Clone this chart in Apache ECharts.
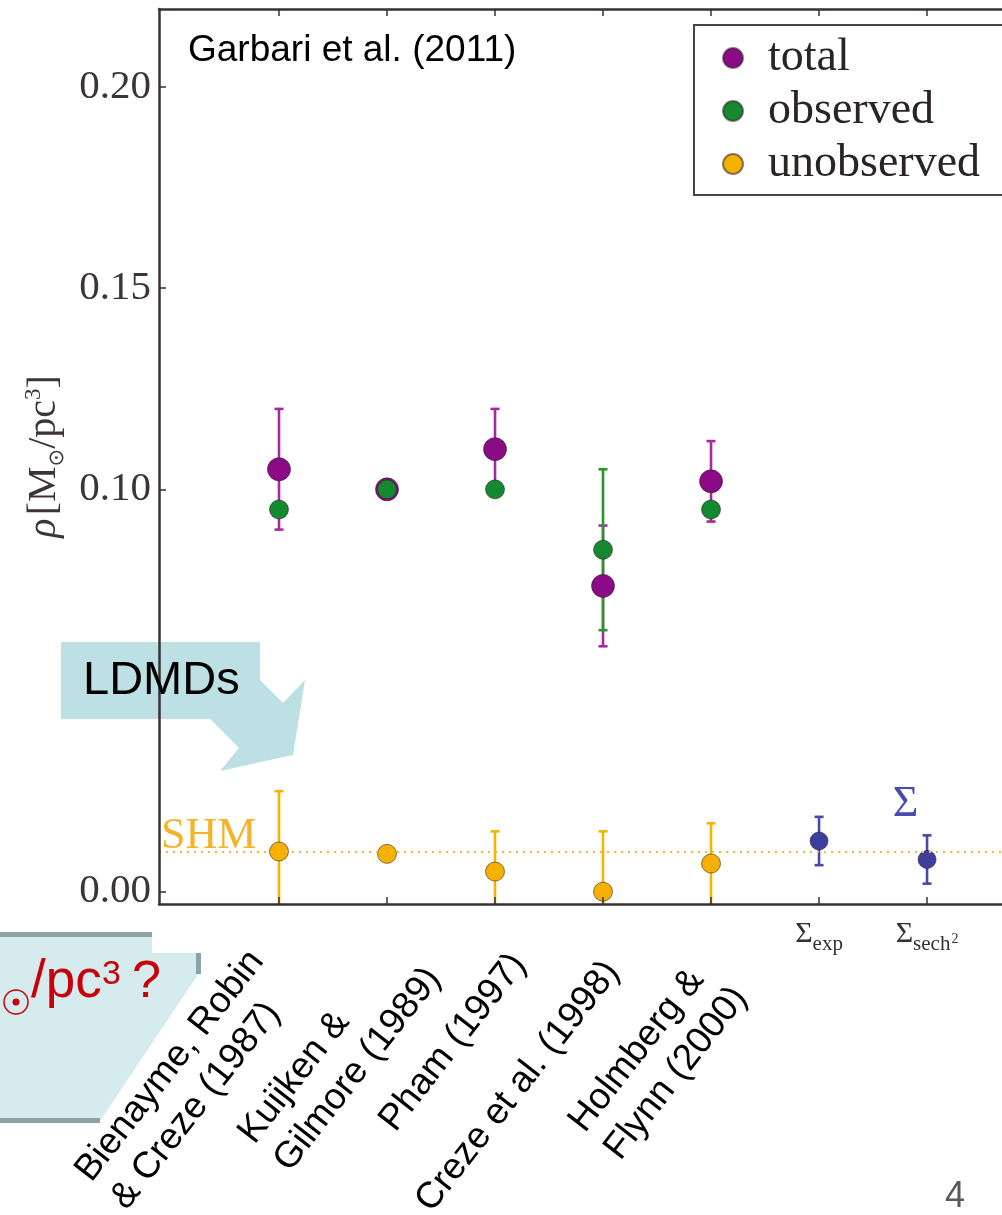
<!DOCTYPE html>
<html>
<head>
<meta charset="utf-8">
<script src="https://cdn.jsdelivr.net/npm/echarts@6/dist/echarts.min.js"></script>
<style>
  html, body { margin: 0; padding: 0; background: #ffffff; }
  #chart { width: 1002px; height: 1215px; }
</style>
</head>
<body>
<div id="chart"></div>
<script>
// Local dark matter density estimates, rho in M_sun / pc^3
const studies = ['Bienayme, Robin\n& Creze (1987)', 'Kuijken &\nGilmore (1989)', 'Pham (1997)', 'Creze et al. (1998)', 'Holmberg &\nFlynn (2000)'];
const studyPos = [1, 2, 3, 4, 5];

const totalRho  = [0.105, 0.100, 0.110, 0.076, 0.102];
const totalLow  = [0.090, null, 0.100, 0.061, 0.092];
const totalHigh = [0.120, null, 0.120, 0.091, 0.112];

const observedRho  = [0.095, 0.100, 0.100, 0.085, 0.095];
const observedLow  = [null, null, null, 0.065, null];
const observedHigh = [null, null, null, 0.105, null];

const unobservedRho  = [0.010, 0.0094, 0.005, 0.000, 0.007];
const unobservedLow  = [-0.005, null, -0.005, -0.015, -0.004];
const unobservedHigh = [0.025, null, 0.015, 0.015, 0.017];

// surface-density based fits
const sigmaPos  = [6, 7];
const sigmaSub  = ['exp', 'sech'];
const sigmaSup  = ['', '2'];
const sigmaRho  = [0.0126, 0.008];
const sigmaLow  = [0.0066, 0.002];
const sigmaHigh = [0.0186, 0.014];

const shmRho = 0.008;               // standard halo model
const yTicks = [0, 0.05, 0.10, 0.15, 0.20];
const yTickLabels = [0, 0.10, 0.15, 0.20];
const allTicks = [1, 2, 3, 4, 5, 6, 7];

const X_MIN = -0.111, X_MAX = 7.694;
const Y_MIN = -0.00306, Y_MAX = 0.2194;

const C = {
  axis: '#3a3131',
  total: '#8b0a85', totalBar: '#a52a9d',
  observed: '#14892f', observedBar: '#27972c',
  unobserved: '#f4b100', unobservedBar: '#f5b400',
  sigma: '#3d3f9e', sigmaBar: '#4848aa',
  edge: 'rgba(45,25,30,0.55)'
};

function points(xs, ys) { return xs.map((x, i) => [x, ys[i]]); }
function bars(xs, lo, hi) {
  return xs.map((x, i) => (lo[i] == null ? null : [x, lo[i], hi[i]])).filter(Boolean);
}

function errorBar(color, width, cap) {
  return function (params, api) {
    const x = api.value(0);
    const a = api.coord([x, api.value(1)]);
    const b = api.coord([x, api.value(2)]);
    const st = { stroke: color, lineWidth: width };
    return {
      type: 'group',
      children: [
        { type: 'line', shape: { x1: a[0], y1: a[1], x2: b[0], y2: b[1] }, style: st },
        { type: 'line', shape: { x1: a[0] - cap, y1: a[1], x2: a[0] + cap, y2: a[1] }, style: st },
        { type: 'line', shape: { x1: b[0] - cap, y1: b[1], x2: b[0] + cap, y2: b[1] }, style: st }
      ]
    };
  };
}

function barSeries(name, data, color) {
  return {
    name: name, type: 'custom', clip: true, silent: true,
    renderItem: errorBar(color, 2.6, 4.5),
    encode: { x: 0, y: [1, 2] },
    data: data, z: 2
  };
}

function dotSeries(name, data, color, size, extra) {
  return Object.assign({
    name: name, type: 'scatter', symbol: 'circle', symbolSize: size,
    itemStyle: { color: color, borderColor: C.edge, borderWidth: 1, opacity: 1 },
    data: data, z: 3, silent: true
  }, extra || {});
}

// per-label nudges of the slanted study names: along the baseline / across it
const labelAlong = [9, 38, 35, 20, 12];
const labelAcross = [-13, 7, 3, -4, 5];
const slantRich = {};
labelAlong.forEach((s, i) => {
  const d = labelAcross[i];
  slantRich['s' + i] = {
    fontFamily: '"Liberation Sans", Arial, sans-serif', fontSize: 37, lineHeight: 45,
    color: '#000000', align: 'left',
    padding: [d > 0 ? 2 * d : 0, -s, d < 0 ? -2 * d : 0, 0]
  };
});
// empty end stops keep every study name clear of the min/max label check
const slantLabelValues = [0].concat(studyPos, [7.4]);

const serif = '"Liberation Serif", "DejaVu Serif", serif';

const option = {
  animation: false,
  backgroundColor: '#ffffff',
  grid: { left: 159, right: 0, top: 9, bottom: 311, containLabel: false, outerBoundsMode: 'none' },
  legend: {
    data: ['total', 'observed', 'unobserved'],
    orient: 'vertical', left: 694, top: 25,
    padding: [10, 70, 8, 28], itemGap: 7, itemWidth: 60, itemHeight: 20,
    icon: 'circle', selectedMode: false,
    borderColor: '#4a4444', borderWidth: 2, backgroundColor: '#ffffff',
    textStyle: { fontFamily: serif, fontSize: 46, lineHeight: 44, color: '#2b2424' }
  },
  xAxis: [
    {
      type: 'value', min: X_MIN, max: X_MAX, position: 'bottom', z: 5,
      axisLine: { show: true, onZero: false, lineStyle: { color: C.axis, width: 2.5 } },
      axisTick: { show: true, inside: true, length: 7, customValues: allTicks, lineStyle: { color: C.axis, width: 1.5 } },
      splitLine: { show: false },
      axisLabel: {
        show: true, customValues: slantLabelValues, rotate: 52, margin: 80,
        hideOverlap: false, showMinLabel: false, showMaxLabel: false,
        formatter: function (v) {
          const i = studyPos.indexOf(v);
          if (i < 0) return '';
          return studies[i].split('\n').map(l => '{s' + i + '|' + l + '}').join('\n');
        },
        rich: slantRich
      }
    },
    {
      type: 'value', min: X_MIN, max: X_MAX, position: 'bottom',
      axisLine: { show: false, onZero: false }, axisTick: { show: false }, splitLine: { show: false },
      axisLabel: {
        show: true, customValues: sigmaPos, margin: 11,
        hideOverlap: false, showMinLabel: true, showMaxLabel: true,
        formatter: function (v) {
          const i = sigmaPos.indexOf(v);
          if (i < 0) return '';
          return '{S|Σ}{sub|' + sigmaSub[i] + '}' + (sigmaSup[i] ? '{sup|' + sigmaSup[i] + '}' : '');
        },
        rich: {
          S: { fontFamily: serif, fontSize: 30, lineHeight: 34, color: '#333030', verticalAlign: 'bottom' },
          sub: { fontFamily: serif, fontSize: 21, lineHeight: 20, color: '#333030', verticalAlign: 'bottom', padding: [0, 0, -6, 0] },
          sup: { fontFamily: serif, fontSize: 14, lineHeight: 14, color: '#333030', verticalAlign: 'top', padding: [17, 0, 0, 1] }
        }
      }
    },
    {
      type: 'value', min: X_MIN, max: X_MAX, position: 'top', z: 5,
      axisLine: { show: true, onZero: false, lineStyle: { color: C.axis, width: 2.5 } },
      axisTick: { show: true, inside: true, length: 7, customValues: allTicks, lineStyle: { color: C.axis, width: 1.5 } },
      axisLabel: { show: false }, splitLine: { show: false }
    }
  ],
  yAxis: {
    type: 'value', min: Y_MIN, max: Y_MAX, z: 5,
    axisLine: { show: true, onZero: false, lineStyle: { color: C.axis, width: 2.5 } },
    axisTick: { show: true, inside: true, length: 7, customValues: yTicks, lineStyle: { color: C.axis, width: 1.5 } },
    splitLine: { show: false },
    axisLabel: {
      customValues: yTickLabels, margin: 8, showMinLabel: true, showMaxLabel: true,
      formatter: v => v.toFixed(2),
      fontFamily: serif, fontSize: 41, color: '#3d3535'
    },
    name: '{r|ρ} {t|[M}{sub|⊙}{t|/pc}{sup|3}{t|]}',
    nameLocation: 'middle', nameRotate: 90, nameGap: 91,
    nameTextStyle: {
      rich: {
        r: { fontFamily: serif, fontStyle: 'italic', fontSize: 40, color: '#3d3535', verticalAlign: 'bottom', lineHeight: 42 },
        t: { fontFamily: serif, fontSize: 40, color: '#3d3535', verticalAlign: 'bottom', lineHeight: 42 },
        sub: { fontFamily: '"DejaVu Sans", sans-serif', fontSize: 21, color: '#3d3535', verticalAlign: 'bottom', lineHeight: 21, padding: [0, 0, -4, 0] },
        sup: { fontFamily: serif, fontSize: 23, color: '#3d3535', verticalAlign: 'top', lineHeight: 23 }
      }
    }
  },
  series: [
    barSeries('total err', bars(studyPos, totalLow, totalHigh), C.totalBar),
    barSeries('observed err', bars(studyPos, observedLow, observedHigh), C.observedBar),
    barSeries('unobserved err', bars(studyPos, unobservedLow, unobservedHigh), C.unobservedBar),
    barSeries('sigma err', bars(sigmaPos, sigmaLow, sigmaHigh), C.sigmaBar),
    dotSeries('unobserved', points(studyPos, unobservedRho), C.unobserved, 19, {
      markLine: {
        silent: true, symbol: ['none', 'none'],
        lineStyle: { color: '#f5bb2a', width: 2.2, type: [2, 5] },
        label: {
          show: true, position: 'insideStartTop', formatter: 'SHM', distance: [2, -7],
          fontFamily: serif, fontSize: 44, color: '#f4b42a'
        },
        data: [{ yAxis: shmRho }]
      }
    }),
    dotSeries('Σ', points(sigmaPos, sigmaRho), C.sigma, 18, {
      markPoint: {
        silent: true, symbol: 'rect', symbolSize: 1,
        itemStyle: { color: 'rgba(0,0,0,0)' },
        label: { show: true, position: 'inside', formatter: 'Σ', fontFamily: serif, fontSize: 44, color: '#4a4ab4' },
        data: [{ coord: [6.8, 0.0218] }]
      }
    }),
    dotSeries('total', points(studyPos, totalRho), C.total, 23),
    dotSeries('observed', points(studyPos, observedRho), C.observed, 19)
  ],
  graphic: [
    {
      type: 'text', x: 188, y: 51, z: 10,
      style: { text: 'Garbari et al. (2011)', font: '37px "Liberation Sans", Arial, sans-serif', fill: '#000000', verticalAlign: 'middle' }
    },
    // "LDMDs" callout
    {
      type: 'polygon', z: 1,
      shape: { points: [[61, 642], [260, 642], [260, 680], [283, 703], [305, 680], [293, 755], [220, 771], [239, 748], [210, 719], [61, 719]] },
      style: { fill: '#bce0e4' }
    },
    {
      type: 'text', x: 83, y: 681, z: 10,
      style: { text: 'LDMDs', font: '47px "Liberation Sans", Arial, sans-serif', fill: '#000000', verticalAlign: 'middle' }
    },
    // lower-left callout
    {
      type: 'polygon', z: 1,
      shape: { points: [[0, 935], [152, 935], [152, 953], [199, 953], [199, 973], [100, 1121], [0, 1121]] },
      style: { fill: '#d5ebee' }
    },
    { type: 'rect', z: 1, shape: { x: 0, y: 932, width: 152, height: 5 }, style: { fill: '#8da4a7' } },
    { type: 'rect', z: 1, shape: { x: 196, y: 953, width: 5, height: 21 }, style: { fill: '#8da4a7' } },
    { type: 'rect', z: 1, shape: { x: 0, y: 1118, width: 100, height: 5 }, style: { fill: '#8da4a7' } },
    { type: 'circle', z: 10, shape: { cx: 16, cy: 1002, r: 12 }, style: { fill: 'none', stroke: '#c8000a', lineWidth: 1.5 } },
    { type: 'circle', z: 10, shape: { cx: 16, cy: 1002, r: 3.5 }, style: { fill: '#c8000a' } },
    {
      type: 'text', x: 31, y: 982, z: 10,
      style: { text: '/pc', font: '53px "Liberation Sans", Arial, sans-serif', fill: '#c8000a', verticalAlign: 'middle' }
    },
    {
      type: 'text', x: 102, y: 975, z: 10,
      style: { text: '3', font: '34px "Liberation Sans", Arial, sans-serif', fill: '#c8000a', verticalAlign: 'middle' }
    },
    {
      type: 'text', x: 132, y: 983, z: 10,
      style: { text: '?', font: '52px "Liberation Sans", Arial, sans-serif', fill: '#c8000a', verticalAlign: 'middle' }
    },
    {
      type: 'text', x: 945, y: 1197, z: 10,
      style: { text: '4', font: '36px "Liberation Sans", Arial, sans-serif', fill: '#595959', verticalAlign: 'middle' }
    }
  ]
};

const chart = echarts.init(document.getElementById('chart'), null, { renderer: 'canvas' });
chart.setOption(option);
</script>
</body>
</html>
